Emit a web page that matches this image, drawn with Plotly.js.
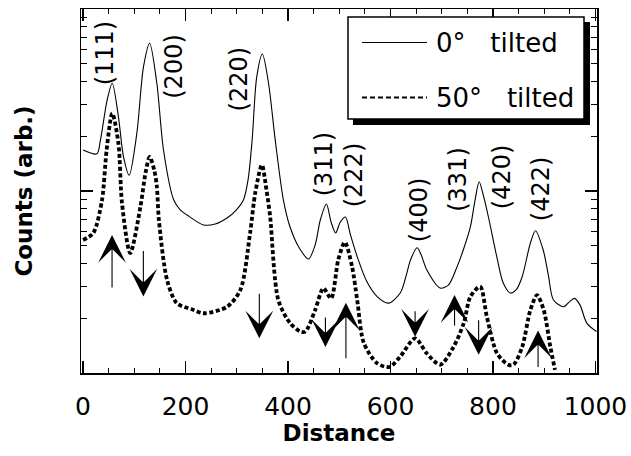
<!DOCTYPE html>
<html><head><meta charset="utf-8">
<script src="https://cdn.plot.ly/plotly-3.0.1.min.js"></script>
<style>html,body{margin:0;padding:0;background:#fff;}#chart{width:631px;height:456px;}</style>
</head><body><div id="chart"></div>
<script>
// 0° tilted (solid)
const distance0 = [0,27,34,47,57,69,79,90,105,118,130,144,157,177,190,203,235,258,281,299,313,322,330,339,350,362,375,391,404,422,440,453,463,475,484,493,502,512,522,535,554,574,596,619,631,639,652,660,671,697,713,730,742,756,765,773,781,791,808,820,834,845,857,873,883,898,908,918,938,949,959,970,983,1002];
const counts0 = [16.8,16.0,19.1,31.6,39.1,25.6,15.4,12.2,20.8,48.2,64.8,39.1,16.8,8.92,7.86,7.38,6.51,6.59,7.11,7.86,8.92,11.5,19.1,42.5,56.6,39.1,19.1,8.92,6.34,4.86,4.23,5.05,6.93,8.48,6.76,5.88,6.76,7.20,5.73,4.36,3.17,2.63,2.42,2.75,3.46,4.18,4.88,4.45,3.68,2.93,3.04,3.84,4.74,6.37,8.92,11.25,9.51,7.22,4.28,3.12,2.75,2.86,3.38,5.18,6.05,4.74,3.46,2.52,2.31,2.46,2.57,2.36,1.88,1.69];
// 50° tilted (dashed)
const distance50 = [0,20,37,46,57,69,76,92,112,122,130,139,144,148,164,183,216,235,281,307,326,336,349,358,365,381,404,424,434,453,469,484,498,511,525,535,548,574,598,619,648,671,697,723,743,756,775,788,808,830,840,857,873,886,899,912,921];
const counts50 = [5.38,5.88,8.92,16.8,26.7,18.3,8.59,4.56,8.20,12.6,15.4,13.0,10.6,6.93,3.24,2.42,2.22,2.13,2.31,2.86,5.88,9.75,13.9,10.1,7.3,2.52,1.88,1.69,1.69,2.22,2.92,2.57,4.18,5.23,3.84,2.52,1.46,1.13,1.08,1.23,1.55,1.28,1.11,1.39,1.88,2.63,2.98,2.04,1.28,1.11,1.11,1.39,2.22,2.68,2.22,1.39,1.04];
const seriesNames = ['0°\u00A0\u00A0\u00A0tilted', '50°\u00A0\u00A0\u00A0tilted'];
const xTickVals = [0,200,400,600,800,1000];
// Peak labels
const peakLabels = ['(111)','(200)','(220)','(311)','(222)','(400)','(331)','(420)','(422)'];
const peakLabelX = [43.5,177.6,305,470.8,529.4,656.2,731.3,818.1,894.2];
const peakLabelY = [57.3,48.2,41.2,14.06,12.25,7.87,11.64,11.94,10.26];
// Arrows (tip positions)
const arrowX = [56.6,117.7,344,473,513,648,725,772,888];
const arrowY = [5.73,2.63,1.55,1.39,2.43,1.58,2.68,1.26,1.71];
const arrowDir = ['up','down','down','down','up','down','up','down','up'];
const arrowLen = [54,47,46,31,57,27,32,36,38];

const FONT = 'DejaVu Sans, Verdana, sans-serif';
const L = 81, R = 597, T = 9, B = 373;
const px2x = p => (p - L) / (R - L);
const py2y = p => (B - p) / (B - T);

const traces = [
  {x: distance0, y: counts0, name: seriesNames[0], type: 'scatter', mode: 'lines',
   line: {color: '#000', width: 1.1, shape: 'spline', smoothing: 0.8}},
  {x: distance50, y: counts50, name: seriesNames[1], type: 'scatter', mode: 'lines',
   line: {color: '#000', width: 3.8, dash: '4px,2.5px', shape: 'spline', smoothing: 0.8}}
];

const annotations = [];
peakLabels.forEach((t, i) => annotations.push({
  x: peakLabelX[i], y: Math.log10(peakLabelY[i]), xref: 'x', yref: 'y',
  text: t, showarrow: false, textangle: -90,
  font: {family: FONT, size: 24, color: '#000'}
}));
arrowX.forEach((xv, i) => annotations.push({
  x: xv, y: Math.log10(arrowY[i]), xref: 'x', yref: 'y', text: '',
  showarrow: true, arrowhead: 3, arrowsize: 4.2, arrowwidth: 1.1, arrowcolor: '#000',
  ax: 0, ay: arrowDir[i] === 'up' ? arrowLen[i] : -arrowLen[i], standoff: 0
}));
// legend texts
annotations.push({x: px2x(434), y: py2y(42.5), xref: 'paper', yref: 'paper', xanchor: 'left', yanchor: 'middle',
  text: seriesNames[0], showarrow: false, font: {family: FONT, size: 26, color: '#000'}});
annotations.push({x: px2x(434), y: py2y(97.5), xref: 'paper', yref: 'paper', xanchor: 'left', yanchor: 'middle',
  text: seriesNames[1], showarrow: false, font: {family: FONT, size: 26, color: '#000'}});

const shapes = [
  {type: 'rect', xref: 'paper', yref: 'paper', x0: px2x(353), x1: px2x(590), y0: py2y(22), y1: py2y(125),
   fillcolor: '#000', line: {width: 0}, layer: 'above'},
  {type: 'rect', xref: 'paper', yref: 'paper', x0: px2x(348), x1: px2x(584), y0: py2y(17), y1: py2y(119),
   fillcolor: '#fff', line: {color: '#000', width: 1.5}, layer: 'above'},
  {type: 'line', xref: 'paper', yref: 'paper', x0: px2x(362), x1: px2x(427), y0: py2y(42.5), y1: py2y(42.5),
   line: {color: '#000', width: 1.1}, layer: 'above'},
  {type: 'line', xref: 'paper', yref: 'paper', x0: px2x(362), x1: px2x(427), y0: py2y(97.5), y1: py2y(97.5),
   line: {color: '#000', width: 2.2, dash: '5px,3px'}, layer: 'above'}
];

const layout = {
  width: 631, height: 456,
  margin: {l: L, r: 631 - R, t: T, b: 456 - B},
  paper_bgcolor: '#fff', plot_bgcolor: '#fff',
  showlegend: false,
  font: {family: FONT, color: '#000'},
  xaxis: {
    range: [-4, 1003], tickvals: xTickVals, ticks: 'inside', ticklen: 12, tickwidth: 1.2, tickcolor: '#000',
    minor: {dtick: 50, tick0: 0, ticks: 'inside', ticklen: 5, tickwidth: 1, tickcolor: '#000'},
    showline: true, linecolor: '#000', linewidth: 1.5, mirror: 'allticks', showgrid: false, zeroline: false,
    tickfont: {family: FONT, size: 25, color: '#000'}, ticklabelstandoff: 10,
    title: {text: 'Distance', font: {family: FONT, size: 23, color: '#000', weight: 'bold'}, standoff: 2}
  },
  yaxis: {
    type: 'log', range: [0, 2], dtick: 1, ticks: 'inside', ticklen: 12, tickwidth: 1.2, tickcolor: '#000',
    minor: {dtick: 'D1', ticks: 'inside', ticklen: 6, tickwidth: 1, tickcolor: '#000'},
    showticklabels: false,
    showline: true, linecolor: '#000', linewidth: 1.5, mirror: 'allticks', showgrid: false, zeroline: false,
    title: {text: 'Counts (arb.)', font: {family: FONT, size: 23, color: '#000', weight: 'bold'}, standoff: 40}
  },
  annotations: annotations,
  shapes: shapes
};

Plotly.newPlot('chart', traces, layout, {staticPlot: true, displayModeBar: false});
</script>
</body></html>
